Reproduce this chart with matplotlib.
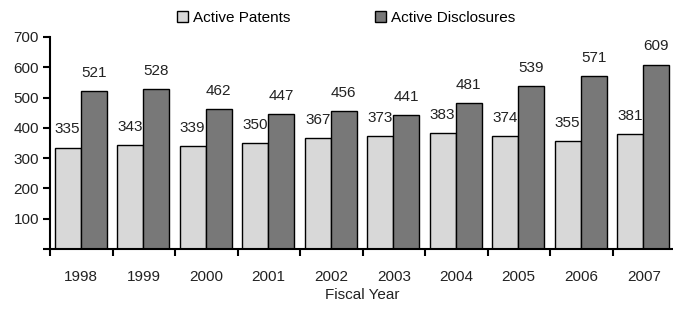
import numpy as np
import matplotlib.pyplot as plt
from matplotlib.ticker import FixedLocator

plt.rcParams['font.family'] = ['Liberation Sans', 'DejaVu Sans']

years = ['1998', '1999', '2000', '2001', '2002', '2003', '2004', '2005', '2006', '2007']
patents = [335, 343, 339, 350, 367, 373, 383, 374, 355, 381]
disclosures = [521, 528, 462, 447, 456, 441, 481, 539, 571, 609]

fig = plt.figure(figsize=(6.73, 3.13), dpi=100)
# axes: x from 50px to 675px, y from 249px (0) to 37px (700)
ax = fig.add_axes([50 / 673, 1 - 249 / 313, 625 / 673, 212 / 313])

x = np.arange(len(years))
w = 0.415
b1 = ax.bar(x - w / 2 - 0.01, patents, w, color='#d8d8d8', edgecolor='black',
            linewidth=1.0, label='Active Patents')
b2 = ax.bar(x + w / 2 - 0.01, disclosures, w, color='#787878', edgecolor='black',
            linewidth=1.0, label='Active Disclosures')

for bars in (b1, b2):
    for r in bars:
        ax.annotate(str(int(r.get_height())), (r.get_x() + r.get_width() / 2, r.get_height()),
                    xytext=(0, 8), textcoords='offset points', ha='center', va='bottom',
                    fontsize=11, color='#222222')

ax.set_xlim(-0.5, len(years) - 0.5)
ax.set_ylim(0, 700)
ax.set_yticks(range(100, 701, 100))
ax.yaxis.set_minor_locator(FixedLocator([0]))
ax.set_xticks(x)
ax.set_xticklabels(years)
ax.xaxis.set_minor_locator(FixedLocator(np.arange(-0.5, len(years), 1)))
ax.tick_params(axis='x', which='major', length=0, pad=15, labelsize=11, labelcolor='#222222')
ax.tick_params(axis='x', which='minor', length=5, width=1.5, direction='out')
ax.tick_params(axis='y', which='both', length=5, width=1.5, direction='out', labelsize=11,
               labelcolor='#222222', pad=3)
for s in ('top', 'right'):
    ax.spines[s].set_visible(False)
for s in ('left', 'bottom'):
    ax.spines[s].set_linewidth(1.5)

ax.set_xlabel('Fiscal Year', fontsize=11, color='#222222', labelpad=3)

ax.legend(loc='center left', bbox_to_anchor=(127 / 625, 1 + 19 / 212), ncol=2, frameon=False,
          fontsize=11, handlelength=0.7, handleheight=0.7, handletextpad=0.35,
          columnspacing=5.55, borderaxespad=0, borderpad=0)

fig.savefig('out.png', dpi=100)
